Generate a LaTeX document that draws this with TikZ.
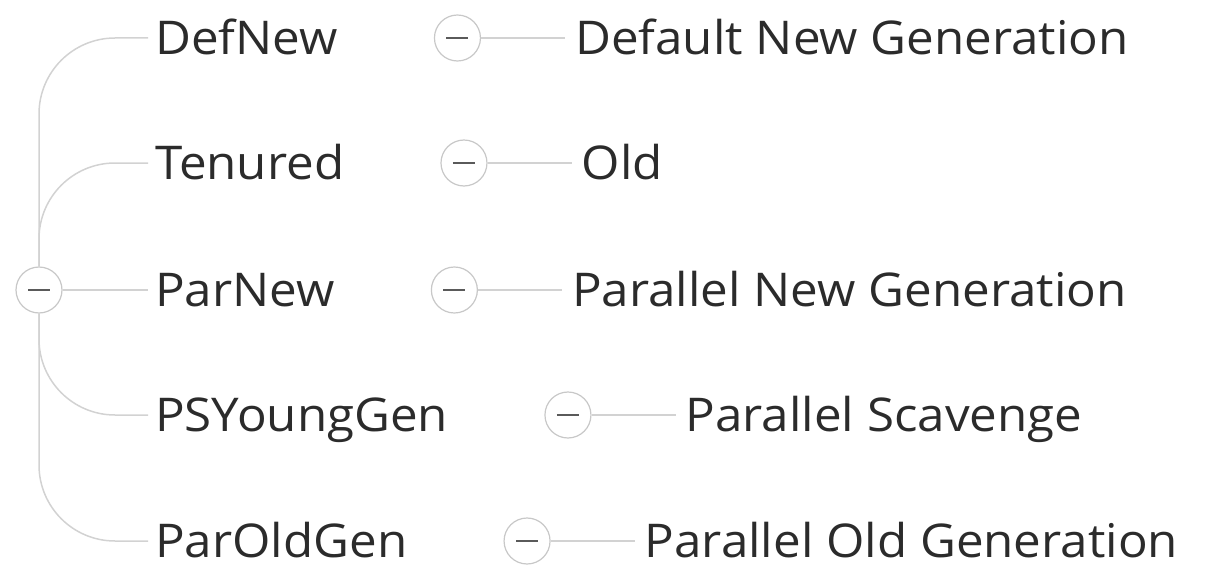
\documentclass[tikz,border=0pt]{standalone}
\usepackage{fontspec}
\setmainfont{Open Sans}[FakeStretch=1.06]
\usetikzlibrary{positioning}
\definecolor{txtgray}{HTML}{2B2B2B}
\definecolor{linegray}{HTML}{D2D2D2}
\definecolor{circgray}{HTML}{C8C8C8}
\definecolor{minusgray}{HTML}{5A5A5A}
\tikzset{
  lbl/.style={anchor=west, inner xsep=7pt, inner ysep=0pt, text height=33pt, text depth=0pt,
    font=\fontsize{46.5}{46.5}\selectfont, text=txtgray},
  childlbl/.style={lbl, inner xsep=10pt},
  conn/.style={draw=linegray, line width=1.5pt},
  collapse/.style={circle, draw=circgray, line width=1.2pt, minimum size=46pt, inner sep=0pt, fill=white,
    path picture={\draw[minusgray, line width=2pt]
      ([xshift=-11pt]path picture bounding box.center) -- ([xshift=11pt]path picture bounding box.center);}},
}
\begin{document}
\begin{tikzpicture}[x=1pt, y=-1pt]
\useasboundingbox (0,0) rectangle (1208,586);
\node[collapse] (root) at (39,290) {};
\node[lbl] (defnew) at (148,38) {DefNew};
\node[lbl] (tenured) at (148,163) {Tenured};
\node[lbl] (parnew) at (148,290) {ParNew};
\node[lbl] (psyoung) at (148,415) {PSYoungGen};
\node[lbl] (parold) at (148,541) {ParOldGen};
\foreach \n/\c in {defnew/c1, tenured/c2, parnew/c3, psyoung/c4, parold/c5}{
  \node[collapse, right=89pt of \n] (\c) {};
}
\node[childlbl, right=84pt of c1] (k1) {Default New Generation};
\node[childlbl, right=84pt of c2] (k2) {Old};
\node[childlbl, right=84pt of c3] (k3) {Parallel New Generation};
\node[childlbl, right=84pt of c4] (k4) {Parallel Scavenge};
\node[childlbl, right=84pt of c5] (k5) {Parallel Old Generation};
\draw[conn, rounded corners=76pt] (root.north) |- (defnew.west);
\draw[conn, rounded corners=76pt] (root.north) |- (tenured.west);
\draw[conn] (root.east) -- (parnew.west);
\draw[conn, rounded corners=76pt] (root.south) |- (psyoung.west);
\draw[conn, rounded corners=76pt] (root.south) |- (parold.west);
\foreach \n/\c/\k in {defnew/c1/k1, tenured/c2/k2, parnew/c3/k3, psyoung/c4/k4, parold/c5/k5}{
  \draw[conn] (\c.east) -- (\k.west);
}
\end{tikzpicture}
\end{document}
